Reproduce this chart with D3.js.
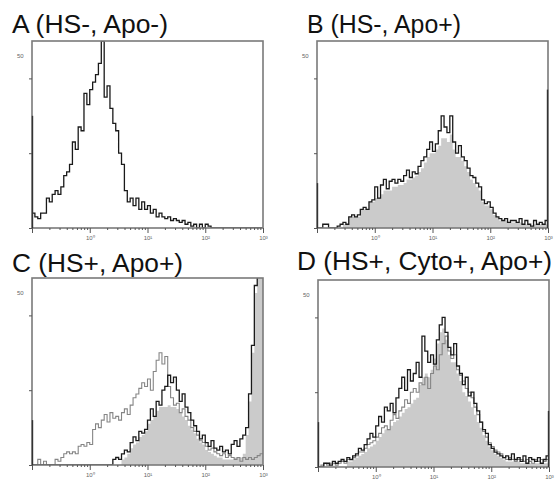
<!DOCTYPE html>
<html>
<head>
<meta charset="utf-8">
<script src="https://cdn.jsdelivr.net/npm/d3@7"></script>
<style>
  body { margin: 0; background: #fff; }
  svg { display: block; }
</style>
</head>
<body>
<div id="chart"></div>
<script>
// Panel titles and axis labels
const titles = ["A (HS-, Apo-)", "B (HS-, Apo+)", "C (HS+, Apo+)", "D (HS+, Cyto+, Apo+)"];
const decadeLabels = ["10\u2070", "10\u00b9", "10\u00b2", "10\u00b3"];
const countMaxLabel = "50";

// Histogram bins: 80 bins of 0.05 decade, from 10^-1 to 10^3
const binStart = -1;
const binStep = 0.05;

// A: single line histogram
const histA = [
  4, 3, 2.5, 4, 4, 8, 7, 9, 10, 9,
  11, 14, 15, 17, 23, 21, 27, 26, 36, 33,
  37, 39, 41, 44, 50, 35, 38, 32, 28, 26,
  20, 17, 10, 7, 8, 6, 8, 5, 7, 5,
  6, 4, 5, 3, 4, 3, 2.5, 3, 2, 2.5,
  2, 1.5, 2, 1, 1.5, 0.5, 1, 0, 1, 0,
  1, 0.5, 0, 0, 0, 0, 0, 0, 0, 0,
  0, 0, 0, 0, 0, 0, 0, 0, 0, 0
];

// B: filled control + dark line
const fillB = [
  0, 0, 0, 0, 0, 0, 0, 0, 0, 1,
  1, 3, 3, 3, 3, 5, 5, 5, 7, 7,
  8, 8, 9, 10, 10, 10, 11, 11, 11.5, 11.5,
  12, 13, 13, 13.5, 14, 15, 16, 17.5, 19, 20,
  20, 21, 22, 24, 24, 23, 25, 21, 19, 19,
  18, 16.5, 15, 13, 12, 11, 10, 7, 6, 6,
  5, 3.5, 3, 2, 2, 2, 1.5, 1.5, 1.5, 1.5,
  1.5, 1, 1, 1, 0.5, 1, 1, 1, 1, 1
];
const darkB = [
  0, 0, 1, 1, 0, 0, 0, 0.5, 1, 1.5,
  1, 3, 3.5, 3, 3.5, 5, 5.5, 5, 7, 7.5,
  11, 8, 11.5, 13, 10.5, 12.5, 13, 12, 13, 12.5,
  14, 15.5, 13.5, 15, 14.5, 16.5, 18, 19, 21, 23,
  20.5, 22.5, 26, 30, 27, 25.5, 30, 23, 20, 22,
  19, 18, 16, 14, 13.5, 12, 11, 7.5, 6.5, 7,
  5.5, 4, 3, 2.5, 2, 2.5, 1.5, 2, 2, 1.5,
  2.5, 1, 2, 1, 0.5, 2, 1, 1.5, 1, 2
];

// C: filled, dark line, light line
const fillC = [
  0, 0, 0, 0, 0, 0, 0, 0, 0, 0,
  0, 0, 0, 0, 0, 0, 0, 0, 0, 0,
  0, 0, 0, 0, 0, 0, 0, 0, 0, 0,
  0, 1.5, 2, 3, 4.5, 5.5, 6, 7.5, 8, 9,
  11, 12, 13, 14.5, 15.5, 15.5, 15.5, 16, 15.5, 15.5,
  15, 14, 13, 12, 10.5, 9.5, 8.5, 7, 6, 5.5,
  4, 3.5, 3, 2.5, 2, 2, 1.5, 1.5, 1.5, 1.5,
  2, 2, 2, 3, 8, 17, 30, 46, 68, 90
];
const darkC = [
  0, 0, 0, 0, 0, 0, 0, 0, 0, 0,
  0, 0, 0, 0, 0, 0, 0, 0, 0, 0,
  0, 0, 0, 0, 0, 0, 0, 0, 1.5, 2,
  1.5, 3, 4, 3.5, 6, 7.5, 6.5, 9, 8.5, 9.5,
  12, 15, 13, 17, 16, 20, 21, 24, 22, 23.5,
  20, 17, 19, 15.5, 14, 12, 10.5, 9, 7, 8,
  6, 5, 6.5, 4.5, 4, 5, 3.5, 4, 3, 5.5,
  6.5, 5, 7, 8, 10, 19, 32, 48, 70, 90
];
const lightC = [
  0, 0, 1.5, 0, 1, 0, 0, 0, 1.5, 1,
  2, 3, 3.5, 3, 3.5, 3, 5, 5.5, 5, 6,
  5.5, 9.5, 11, 10, 12, 13.5, 11.5, 14, 12.5, 13,
  12, 14, 15, 13.5, 16, 18, 19, 20.5, 22, 21,
  23, 20, 25, 28, 30, 27, 29, 21, 18, 16,
  16.5, 14, 15, 13, 12, 10, 9, 8, 6.5, 6,
  5, 4, 4.5, 3.5, 3, 2.5, 3, 2, 2.5, 2,
  1.5, 2, 1, 2, 1.5, 2, 1.5, 2, 2.5, 3
];

// D: filled, dark line, light line
const fillD = [
  0, 0, 0, 0, 0, 0, 0, 0, 0, 0,
  1.5, 1.5, 2, 2.5, 3, 3.5, 4, 5, 5.5, 6,
  7, 8, 9, 10, 10, 11, 12, 12.5, 13.5, 14.5,
  15.5, 16, 17, 18, 18.5, 22, 24, 25, 24, 26,
  29, 33, 36, 37, 34, 30, 28, 28, 25, 23,
  20, 19, 17.5, 16, 14, 12, 10.5, 8.5, 7, 5.5,
  4.5, 3.5, 3, 2.5, 2, 1.5, 1.5, 1.5, 1.5, 1.5,
  1, 1, 1, 1, 1, 1, 1, 1, 1, 1
];
const darkD = [
  0, 0, 1, 1, 0.5, 1.5, 1, 1.5, 2, 1.5,
  2.5, 2, 3, 3.5, 5, 4.5, 6, 7.5, 9, 8,
  11, 13.5, 12, 16, 15, 17, 14.5, 18.5, 21, 24,
  20.5, 26, 23, 25, 28, 24, 35, 31, 28, 30,
  27.5, 34, 38, 40, 36, 32, 30, 33, 27, 25,
  22, 24, 19, 20, 17, 15, 12, 10, 9, 6,
  5, 4, 3.5, 3, 2.5, 3, 2, 3.5, 2, 2.5,
  1.5, 3, 1, 2.5, 2, 1.5, 2.5, 1, 2, 3
];
const lightD = [
  0, 0.5, 1, 0.5, 1, 1, 0.5, 1, 1.5, 1,
  2, 2, 2.5, 3, 4, 4, 5, 6, 6.5, 7,
  8, 9, 10.5, 11, 10, 12.5, 14, 13, 15, 16,
  18, 17, 20, 21, 20, 22.5, 22, 24, 21, 25,
  27, 26, 30, 33, 35, 31, 29, 30, 26, 24.5,
  23, 21, 20, 18.5, 16, 14, 12, 9.5, 8, 6.5,
  5.5, 4.5, 4, 3.5, 2.5, 2, 2.5, 2, 1.5, 2,
  2, 1.5, 2, 1.5, 1, 2, 1.5, 2, 1.5, 2
];

// Off-scale pile-up in first / last channel (A, B, C, D)
const lowEdge = [30, 12, 12, 12];
const highEdge = [0, 37, 0, 15];

// Layout
const width = 555, height = 481;
const pw = 231, ph = 187;
const panels = [
  { left: 32, top: 41, tx: 12, ty: 33, tw: 156, fill: null, dark: histA, light: null },
  { left: 317, top: 41, tx: 307, ty: 33, tw: 154, fill: fillB, dark: darkB, light: null },
  { left: 32, top: 278, tx: 12, ty: 272, tw: 171, fill: fillC, dark: darkC, light: lightC },
  { left: 318, top: 280, tx: 297, ty: 270, tw: 255, fill: fillD, dark: darkD, light: lightD }
];

const svg = d3.select("#chart")
  .append("svg")
  .attr("width", width)
  .attr("height", height)
  .attr("viewBox", [0, 0, width, height]);

const x = d3.scaleLog().domain([0.1, 1000]).range([0, pw]);
const y = d3.scaleLinear().domain([0, 50]).range([ph, 0]);

const binEdge = i => Math.pow(10, binStart + binStep * i);
function steps(values) {
  const pts = values.map((v, i) => [binEdge(i), v]);
  pts.push([binEdge(values.length), values[values.length - 1]]);
  return pts;
}
const line = d3.line().x(d => x(d[0])).y(d => y(d[1])).curve(d3.curveStepAfter);
const area = d3.area().x(d => x(d[0])).y0(ph).y1(d => y(d[1])).curve(d3.curveStepAfter);

const isMajor = v => Math.abs(Math.log10(v) - Math.round(Math.log10(v))) < 1e-9;
const tickVals = [];
for (let e = -1; e < 3; e++) for (let m = 1; m < 10; m++) tickVals.push(m * Math.pow(10, e));
tickVals.push(1000);

panels.forEach((p, k) => {
  // Title
  svg.append("text")
    .attr("x", p.tx)
    .attr("y", p.ty)
    .attr("font-family", "'Liberation Sans', Arial, sans-serif")
    .attr("font-size", 25)
    .attr("textLength", p.tw)
    .attr("lengthAdjust", "spacingAndGlyphs")
    .attr("fill", "#111")
    .text(titles[k]);

  const g = svg.append("g").attr("transform", `translate(${p.left},${p.top})`);

  g.append("clipPath").attr("id", "clip" + k)
    .append("rect").attr("width", pw).attr("height", ph);
  const plot = g.append("g").attr("clip-path", `url(#clip${k})`);

  if (p.fill) {
    plot.append("path")
      .attr("d", area(steps(p.fill)))
      .attr("fill", "#cbcbcb");
  }
  if (p.light) {
    plot.append("path")
      .attr("d", line(steps(p.light)))
      .attr("fill", "none")
      .attr("stroke", "#858585")
      .attr("stroke-width", 1.1);
  }
  plot.append("path")
    .attr("d", line(steps(p.dark)))
    .attr("fill", "none")
    .attr("stroke", "#1a1a1a")
    .attr("stroke-width", 1.3);

  // Frame
  g.append("rect")
    .attr("width", pw)
    .attr("height", ph)
    .attr("fill", "none")
    .attr("stroke", "#7a7a7a")
    .attr("stroke-width", 1.6);

  // Pile-up at the scale ends
  if (lowEdge[k] > 0) {
    g.append("line")
      .attr("x1", 0.5).attr("x2", 0.5)
      .attr("y1", y(0)).attr("y2", y(lowEdge[k]))
      .attr("stroke", "#333").attr("stroke-width", 1.4);
  }
  if (highEdge[k] > 0) {
    g.append("line")
      .attr("x1", pw - 0.5).attr("x2", pw - 0.5)
      .attr("y1", y(0)).attr("y2", y(highEdge[k]))
      .attr("stroke", "#333").attr("stroke-width", 1.4);
  }

  // X axis (log decades)
  const xAxis = g.append("g")
    .attr("transform", `translate(0,${ph})`)
    .call(d3.axisBottom(x)
      .tickValues(tickVals)
      .tickSize(2)
      .tickFormat(v => (isMajor(v) && v >= 1) ? decadeLabels[Math.round(Math.log10(v))] : ""));
  xAxis.select(".domain").remove();
  xAxis.selectAll(".tick line").attr("stroke", "#555");
  xAxis.selectAll(".tick").filter(isMajor).select("line").attr("y2", 5);
  xAxis.selectAll(".tick text")
    .attr("y", 8)
    .attr("font-size", 6)
    .attr("font-family", "'Liberation Sans', Arial, sans-serif")
    .attr("fill", "#666");

  // Y axis
  const yAxis = g.append("g")
    .call(d3.axisLeft(y).tickValues([0, 20, 40]).tickSize(3).tickFormat(""));
  yAxis.select(".domain").remove();
  yAxis.selectAll(".tick line").attr("stroke", "#555");

  g.append("text")
    .attr("x", -15)
    .attr("y", 17)
    .attr("font-size", 6)
    .attr("font-family", "'Liberation Sans', Arial, sans-serif")
    .attr("fill", "#666")
    .text(countMaxLabel);
});
</script>
</body>
</html>
